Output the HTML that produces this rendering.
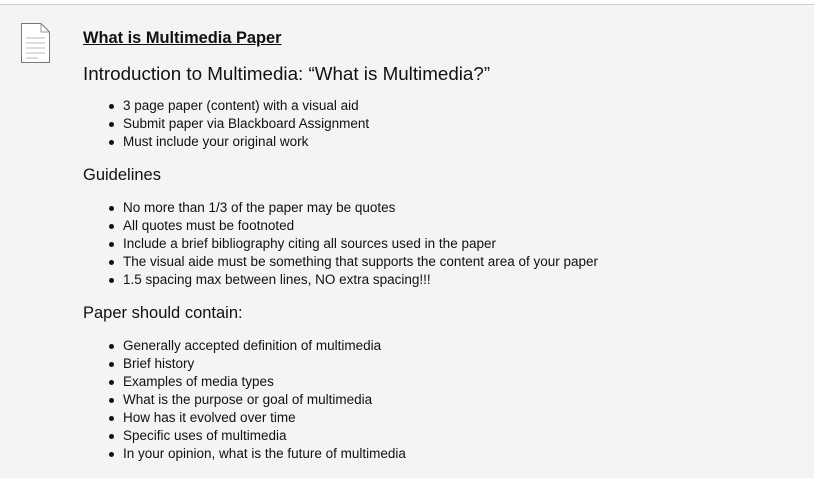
<!DOCTYPE html>
<html><head><meta charset="utf-8"><style>
html,body{margin:0;padding:0;width:814px;height:477px;overflow:hidden;background:#fff;font-family:"Liberation Sans",sans-serif;color:#111;}
#panel{position:absolute;left:0;top:4px;width:814px;height:473px;background:#f4f4f4;border-top:1px solid #cdcdcd;}
.t{position:absolute;white-space:nowrap;}
.b{position:absolute;white-space:nowrap;font-size:13.5px;left:123px;}
.b::before{content:"";position:absolute;left:-14px;top:6px;width:5px;height:5px;border-radius:50%;background:#111;}
</style></head><body>
<div id="panel"></div>
<svg style="position:absolute;left:20px;top:22px" width="32" height="42" viewBox="0 0 32 42">
<path d="M1.5 1.5 H21 L29.5 10 V40.5 H1.5 Z" fill="#fff" stroke="#777" stroke-width="1"/>
<path d="M21 1.5 V10 H29.5" fill="none" stroke="#999"/>
<g stroke="#bbb"><line x1="6" y1="16" x2="25" y2="16"/><line x1="6" y1="21" x2="25" y2="21"/><line x1="6" y1="26" x2="25" y2="26"/><line x1="6" y1="31" x2="25" y2="31"/><line x1="6" y1="36" x2="18" y2="36"/></g>
</svg>
<div class="t" style="left:83px;top:29px;font-size:16.4px;font-weight:bold;text-decoration:underline;">What is Multimedia Paper</div>
<div class="t" style="left:83px;top:63px;font-size:18.8px;">Introduction to Multimedia: “What is Multimedia?”</div>
<div class="b" style="top:98px">3 page paper (content) with a visual aid</div>
<div class="b" style="top:116px">Submit paper via Blackboard Assignment</div>
<div class="b" style="top:134px">Must include your original work</div>
<div class="t" style="left:83px;top:166px;font-size:16.5px;">Guidelines</div>
<div class="b" style="top:200px">No more than 1/3 of the paper may be quotes</div>
<div class="b" style="top:218px">All quotes must be footnoted</div>
<div class="b" style="top:236px">Include a brief bibliography citing all sources used in the paper</div>
<div class="b" style="top:254px">The visual aide must be something that supports the content area of your paper</div>
<div class="b" style="top:272px">1.5 spacing max between lines, NO extra spacing!!!</div>
<div class="t" style="left:83px;top:304px;font-size:16.5px;">Paper should contain:</div>
<div class="b" style="top:338px">Generally accepted definition of multimedia</div>
<div class="b" style="top:356px">Brief history</div>
<div class="b" style="top:374px">Examples of media types</div>
<div class="b" style="top:392px">What is the purpose or goal of multimedia</div>
<div class="b" style="top:410px">How has it evolved over time</div>
<div class="b" style="top:428px">Specific uses of multimedia</div>
<div class="b" style="top:446px">In your opinion, what is the future of multimedia</div>
</body></html>
